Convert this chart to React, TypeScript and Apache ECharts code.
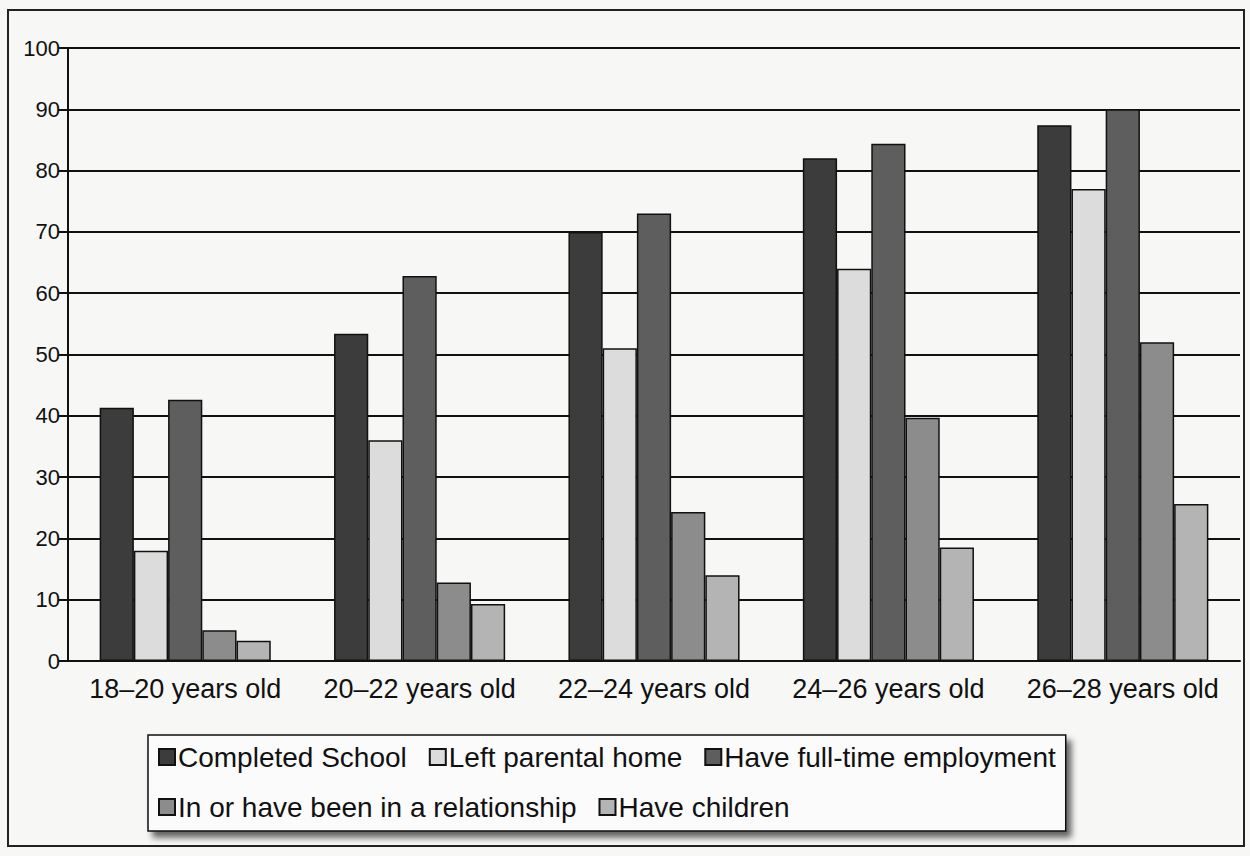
import React, { useEffect, useRef } from "react";
import * as echarts from "echarts";

const categories = ["18–20 years old", "20–22 years old", "22–24 years old", "24–26 years old", "26–28 years old"];
const seriesNames = [
  "Completed School",
  "Left parental home",
  "Have full-time employment",
  "In or have been in a relationship",
  "Have children",
];
const completedSchool = [41.3, 53.4, 70, 82, 87.4];
const leftParentalHome = [18, 36, 51, 64, 77];
const fullTimeEmployment = [42.6, 62.8, 73, 84.4, 90];
const relationship = [5, 12.8, 24.3, 39.7, 52];
const haveChildren = [3.3, 9.3, 14, 18.5, 25.6];
const yTicks = [0, 10, 20, 30, 40, 50, 60, 70, 80, 90, 100];

const colors = ["#3c3c3c", "#dcdcdc", "#5e5e5e", "#8c8c8c", "#b4b4b4"];
const font = "Liberation Sans, Arial, sans-serif";

export default function App() {
  const ref = useRef<HTMLDivElement>(null);
  useEffect(() => {
    if (!ref.current) return;
    const chart = echarts.init(ref.current, null, { renderer: "svg" });
    const values = [completedSchool, leftParentalHome, fullTimeEmployment, relationship, haveChildren];
    chart.setOption({
      animation: false,
      backgroundColor: "#f7f7f5",
      textStyle: { fontFamily: font },
      graphic: [
        {
          type: "rect",
          shape: { x: 8, y: 10, width: 1236, height: 836 },
          style: { fill: "none", stroke: "#222", lineWidth: 2 },
          z: 0,
          silent: true,
        },
      ],
      grid: { left: 68, right: 10, top: 48, bottom: 195 },
      legend: {
        data: seriesNames,
        left: 148,
        top: 735,
        width: 985,
        padding: [8, 10, 10, 10],
        itemGap: 22,
        itemWidth: 16,
        itemHeight: 16,
        icon: "rect",
        backgroundColor: "#fbfbfb",
        borderColor: "#111",
        borderWidth: 1.5,
        shadowColor: "rgba(0,0,0,0.6)",
        shadowBlur: 6,
        shadowOffsetX: 5,
        shadowOffsetY: 6,
        textStyle: { fontSize: 28, color: "#111", fontFamily: font, padding: [0, 0, 0, -2] },
      },
      xAxis: {
        type: "category",
        data: categories,
        axisLine: { lineStyle: { color: "#111", width: 2 } },
        axisTick: { length: 12, lineStyle: { color: "#111", width: 2 } },
        axisLabel: { fontSize: 27, color: "#111", margin: 14, fontFamily: font, interval: 0 },
      },
      yAxis: {
        type: "value",
        min: 0,
        max: 100,
        interval: 10,
        axisLine: { show: true, lineStyle: { color: "#111", width: 2 } },
        axisTick: { show: true, length: 10, lineStyle: { color: "#111", width: 2 } },
        axisLabel: {
          fontSize: 22,
          color: "#111",
          margin: 8,
          fontFamily: font,
          formatter: (v: number) => (yTicks.includes(v) ? String(v) : ""),
        },
        splitLine: { lineStyle: { color: "#111", width: 2 } },
      },
      series: seriesNames.map((name, i) => ({
        name,
        type: "bar",
        data: values[i],
        barGap: "0%",
        barCategoryGap: "27%",
        itemStyle: { color: colors[i], borderColor: "#111", borderWidth: 1.5 },
      })),
    });
    return () => chart.dispose();
  }, []);
  return (
    <div
      ref={ref}
      style={{ position: "fixed", left: 0, top: 0, width: 1250, height: 856 }}
    />
  );
}
